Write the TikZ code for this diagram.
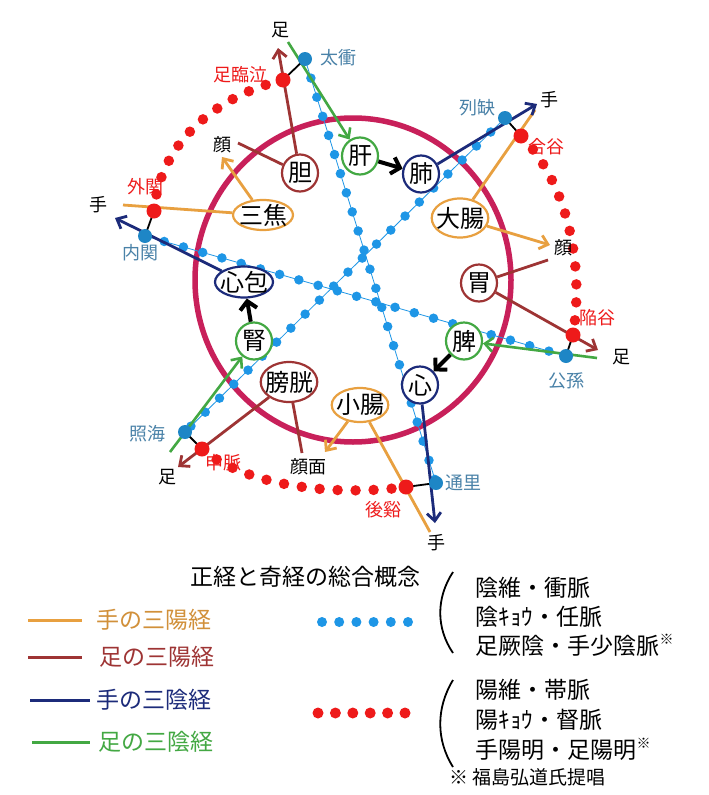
\documentclass[tikz,border=0pt]{standalone}
\usepackage{fontspec}
\setmainfont{Noto Sans CJK JP}
\usetikzlibrary{shapes.geometric,arrows.meta}
\definecolor{yangHand}{HTML}{E8A040}
\definecolor{yangFoot}{HTML}{9E3434}
\definecolor{yinHand}{HTML}{1C2B7A}
\definecolor{yinFoot}{HTML}{43A843}
\definecolor{ring}{HTML}{C8205A}
\definecolor{qiBlue}{HTML}{1E96E6}
\definecolor{qiRed}{HTML}{EE1A1A}
\definecolor{ptBlue}{HTML}{4A82A8}
\definecolor{ptDot}{HTML}{1E86C6}
\tikzset{
	organ/.style={ellipse,draw,line width=2.2pt,fill=white,inner sep=0pt,minimum width=36pt,minimum height=37pt,font=\fontsize{24}{24}\selectfont},
	organwide/.style={organ,inner xsep=-4pt,inner ysep=-1pt},
	yanghand/.style={draw=yangHand,line width=2.8pt},
	yangfoot/.style={draw=yangFoot,line width=2.8pt},
	yinhand/.style={draw=yinHand,line width=2.8pt},
	yinfoot/.style={draw=yinFoot,line width=2.6pt},
	tip/.style={-{Straight Barb[length=8pt,width=14pt]}},
	flow/.style={line width=4pt,-{Straight Barb[length=8pt,width=17pt]}},
	bluedots/.style={draw=qiBlue,line width=9.5pt,line cap=round,dash pattern=on 0pt off 20pt},
	reddots/.style={draw=qiRed,line width=10.5pt,line cap=round,dash pattern=on 0pt off 18pt},
	bluept/.style={circle,fill=ptDot,inner sep=0pt,minimum size=14pt},
	redpt/.style={circle,fill=qiRed,inner sep=0pt,minimum size=15pt},
	ptlabel/.style={font=\fontsize{18}{18}\selectfont},
	legendtext/.style={anchor=west,font=\fontsize{23}{23}\selectfont},
}
\begin{document}
\begin{tikzpicture}[x=1pt,y=-1pt]
	\useasboundingbox[fill=white] (0,0) rectangle (709,795);
	% acupoints
	\coordinate (taisho) at (305,59);
	\coordinate (rinkyu) at (283,80);
	\coordinate (rekketsu) at (505,118);
	\coordinate (gokoku) at (521,136);
	\coordinate (gaikan) at (154,211);
	\coordinate (naikan) at (145,236);
	\coordinate (kankoku) at (573,335);
	\coordinate (koson) at (566,356);
	\coordinate (shokai) at (185,432);
	\coordinate (shinmyaku) at (202,449);
	\coordinate (tsuri) at (436,483);
	\coordinate (koukei) at (406,487);
	\draw[ring,line width=5.5pt] (353,280) ellipse[x radius=158pt,y radius=162pt];
	\draw[qiBlue,line width=0.8pt] (taisho) -- (tsuri);
	\draw[qiBlue,line width=0.8pt] (rekketsu) -- (shokai);
	\draw[qiBlue,line width=0.8pt] (naikan) -- (koson);
	\draw[bluedots] (taisho) -- (tsuri);
	\draw[bluedots] (rekketsu) -- (shokai);
	\draw[bluedots] (naikan) -- (koson);
	\draw[reddots] (rinkyu) .. controls (220,95) and (160,140) .. (gaikan);
	\draw[reddots] (gokoku) .. controls (565,180) and (585,260) .. (kankoku);
	\draw[reddots] (shinmyaku) .. controls (245,485) and (330,497) .. (koukei);
	% organs
	\node[organ,draw=yangFoot] (dan) at (300,173) {胆};
	\node[organ,draw=yinFoot] (kan) at (360,156) {肝};
	\node[organ,draw=yinHand] (hai) at (421,174) {肺};
	\node[organwide,draw=yangHand,minimum width=60pt,minimum height=30pt] (sansho) at (263,215) {三焦};
	\node[organwide,draw=yangHand,minimum width=56pt,minimum height=39pt] (daicho) at (460,218) {大腸};
	\node[organwide,draw=yinHand,minimum width=58pt,minimum height=31pt] (shinpo) at (244,282) {心包};
	\node[organ,draw=yangFoot] (i) at (479,283) {胃};
	\node[organ,draw=yinFoot] (jin) at (254,341) {腎};
	\node[organ,draw=yinFoot] (hi) at (464,341) {脾};
	\node[organwide,draw=yangFoot,minimum width=53pt,minimum height=40pt] (boko) at (289,382) {膀胱};
	\node[organwide,draw=yangHand,minimum width=50pt,minimum height=34pt] (shocho) at (360,405) {小腸};
	\node[organ,draw=yinHand] (shin) at (420,385) {心};
	% ends of the meridians
	\coordinate (ashidan) at (278,48);
	\coordinate (ashikan) at (288,42);
	\coordinate (kaodan) at (238,143);
	\coordinate (kaosansho) at (222,157);
	\coordinate (tesansho) at (123,205);
	\coordinate (teshinpo) at (115,218);
	\coordinate (tehai) at (537,104);
	\coordinate (tedaicho) at (535,110);
	\coordinate (kaodaicho) at (550,245);
	\coordinate (kaoi) at (548,260);
	\coordinate (ashii) at (598,350);
	\coordinate (ashihi) at (597,358);
	\coordinate (ashijin) at (170,452);
	\coordinate (ashiboko) at (178,467);
	\coordinate (ganboko) at (302,453);
	\coordinate (ganshocho) at (325,452);
	\coordinate (teshocho) at (430,532);
	\coordinate (teshin) at (435,523);
	\draw[yangfoot,tip] (dan) -- (ashidan);
	\draw[yangfoot] (dan) -- (kaodan);
	\draw[yangfoot] (i) -- (kaoi);
	\draw[yangfoot,tip] (i) -- (ashii);
	\draw[yangfoot] (boko) -- (ganboko);
	\draw[yangfoot,tip] (boko) -- (ashiboko);
	\draw[yanghand,tip] (sansho) -- (kaosansho);
	\draw[yanghand] (sansho) -- (tesansho);
	\draw[yanghand] (daicho) -- (tedaicho);
	\draw[yanghand,tip] (daicho) -- (kaodaicho);
	\draw[yanghand] (shocho) -- (teshocho);
	\draw[yanghand,tip] (shocho) -- (ganshocho);
	\draw[yinhand,tip] (hai) -- (tehai);
	\draw[yinhand,tip] (shinpo) -- (teshinpo);
	\draw[yinhand,tip] (shin) -- (teshin);
	\draw[yinfoot,tip] (ashikan) -- (kan);
	\draw[yinfoot,tip] (ashihi) -- (hi);
	\draw[yinfoot,tip] (ashijin) -- (jin);
	\draw[flow] (kan) -- (hai);
	\draw[flow] (hi) -- (shin);
	\draw[flow] (jin) -- (shinpo);
	\draw[line width=1.8pt] (rinkyu) -- (taisho);
	\draw[line width=1.8pt] (gaikan) -- (naikan);
	\draw[line width=1.8pt] (gokoku) -- (rekketsu);
	\draw[line width=1.8pt] (kankoku) -- (koson);
	\draw[line width=1.8pt] (shinmyaku) -- (shokai);
	\draw[line width=1.8pt] (koukei) -- (tsuri);
	\node[bluept] at (taisho) {};
	\node[bluept] at (rekketsu) {};
	\node[bluept] at (naikan) {};
	\node[bluept] at (koson) {};
	\node[bluept] at (shokai) {};
	\node[bluept] at (tsuri) {};
	\node[redpt] at (rinkyu) {};
	\node[redpt] at (gokoku) {};
	\node[redpt] at (gaikan) {};
	\node[redpt] at (kankoku) {};
	\node[redpt] at (shinmyaku) {};
	\node[redpt] at (koukei) {};
	% labels
	\node[ptlabel,text=ptBlue] (lbtaisho) at (338,58) {太衝};
	\node[ptlabel,text=qiRed] (lbrinkyu) at (240,75) {足臨泣};
	\node[ptlabel,text=ptBlue] (lbrekketsu) at (477,108) {列缺};
	\node[ptlabel,text=qiRed] (lbgokoku) at (546,147) {合谷};
	\node[ptlabel,text=qiRed] (lbgaikan) at (145,187) {外関};
	\node[ptlabel,text=ptBlue] (lbnaikan) at (140,253) {内関};
	\node[ptlabel,text=qiRed] (lbkankoku) at (597,318) {陥谷};
	\node[ptlabel,text=ptBlue] (lbkoson) at (566,381) {公孫};
	\node[ptlabel,text=ptBlue] (lbshokai) at (147,434) {照海};
	\node[ptlabel,text=qiRed] (lbshinmyaku) at (223,463) {申脈};
	\node[ptlabel,text=ptBlue] (lbtsuri) at (463,483) {通里};
	\node[ptlabel,text=qiRed] (lbkoukei) at (383,510) {後谿};
	\node[ptlabel] (lbashi1) at (280,30) {足};
	\node[ptlabel] (lbte1) at (549,100) {手};
	\node[ptlabel] (lbkao1) at (222,145) {顔};
	\node[ptlabel] (lbte2) at (98,205) {手};
	\node[ptlabel] (lbkao2) at (563,248) {顔};
	\node[ptlabel] (lbashi2) at (621,357) {足};
	\node[ptlabel] (lbashi3) at (167,477) {足};
	\node[ptlabel] (lbganmen) at (308,467) {顔面};
	\node[ptlabel] (lbte3) at (436,543) {手};
	% legend
	\node[font=\fontsize{23}{23}\selectfont] (title) at (305,577) {正経と奇経の総合概念};
	\draw[yangHand,line width=3pt] (28,620) -- (82,620);
	\draw[yangFoot,line width=3pt] (28,657) -- (82,657);
	\draw[yinHand,line width=3pt] (30,700) -- (90,700);
	\draw[yinFoot,line width=3pt] (32,742) -- (90,742);
	\node[legendtext,text=yangHand!90!black] (lgyanghand) at (93,620) {手の三陽経};
	\node[legendtext,text=yangFoot] (lgyangfoot) at (96,657) {足の三陽経};
	\node[legendtext,text=yinHand] (lgyinhand) at (93,700) {手の三陰経};
	\node[legendtext,text=yinFoot] (lgyinfoot) at (95,742) {足の三陰経};
	\foreach \i in {0,...,5}
		\fill[qiBlue] (322+17.2*\i,622) circle[radius=5pt];
	\foreach \i in {0,...,5}
		\fill[qiRed] (318+17.4*\i,713) circle[radius=5.5pt];
	\draw[line width=1.8pt] (453,572) .. controls (436,598) and (436,628) .. (453,653);
	\draw[line width=1.8pt] (453,680) .. controls (436,708) and (436,740) .. (453,767);
	\node[legendtext] (lgyin1) at (472,588) {陰維・衝脈};
	\node[legendtext] (lgyin2) at (472,617) {陰ｷｮｳ・任脈};
	\node[legendtext] (lgyin3) at (472,645) {足厥陰・手少陰脈\raisebox{0.45em}{\fontsize{14}{14}\selectfont ※}};
	\node[legendtext] (lgyang1) at (472,690) {陽維・帯脈};
	\node[legendtext] (lgyang2) at (472,720) {陽ｷｮｳ・督脈};
	\node[legendtext] (lgyang3) at (472,749) {手陽明・足陽明\raisebox{0.45em}{\fontsize{14}{14}\selectfont ※}};
	\node[anchor=west,font=\fontsize{19}{19}\selectfont] (note) at (446,777) {※ 福島弘道氏提唱};
\end{tikzpicture}
\end{document}
